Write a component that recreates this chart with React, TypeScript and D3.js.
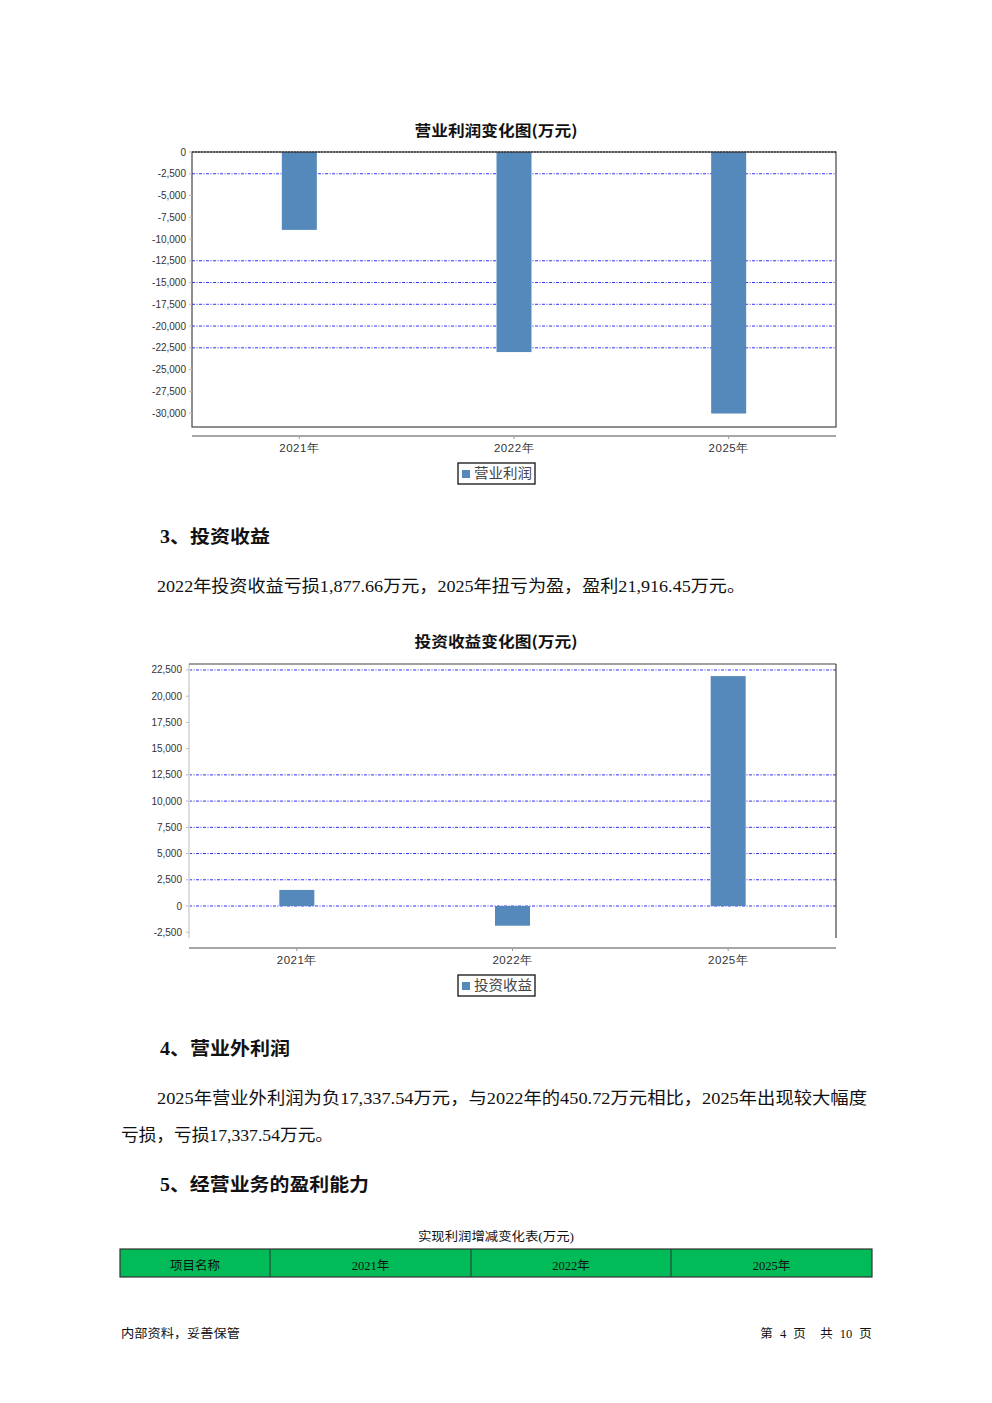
import React from "react";
import * as d3 from "d3";

const years = ["2021年", "2022年", "2025年"];
const operatingProfit = [-8950, -22990, -30050];
const investmentIncome = [1530, -1877.66, 21916.45];
const ticks1 = [0, -2500, -5000, -7500, -10000, -12500, -15000, -17500, -20000, -22500, -25000, -27500, -30000];
const grid1 = [-2500, -12500, -15000, -17500, -20000, -22500];
const ticks2 = [22500, 20000, 17500, 15000, 12500, 10000, 7500, 5000, 2500, 0, -2500];
const grid2 = [22500, 12500, 10000, 7500, 5000, 2500, 0];
const tableHeaders = ["项目名称", "2021年", "2022年", "2025年"];

const BAR = "#5589bc";
const SERIF = "'Liberation Serif', 'Noto Sans CJK SC', serif";
const CJK = "'Noto Sans CJK SC', sans-serif";
const TICKF = "'Liberation Sans', 'DejaVu Sans', sans-serif";
const fmt = (v: number) => d3.format(",")(v).replace("−", "-");

type ChartProps = {
  title: string;
  titleY: number;
  values: number[];
  domain: [number, number];
  x0: number;
  x1: number;
  y0: number;
  y1: number;
  tickX: number;
  ticks: number[];
  grid: number[];
  axisY: number;
  labelY: number;
  legend: string;
  legendY: number;
  variant: number;
};

function BarChart(p: ChartProps) {
  const y = d3.scaleLinear().domain(p.domain).range([p.y0, p.y1]);
  const x = d3.scaleBand().domain(years).range([p.x0, p.x1]);
  const bw = 35;
  return (
    <g>
      <text x={496} y={p.titleY} textAnchor="middle" fontFamily={CJK} fontWeight="bold" fontSize={15} textLength={163} lengthAdjust="spacingAndGlyphs" fill="#111">
        {p.title}
      </text>
      <rect x={p.x0} y={p.y0} width={p.x1 - p.x0} height={p.y1 - p.y0} fill="#fff" />
      {p.grid.map((g) => (
        <line key={"g" + g} x1={p.x0} x2={p.x1} y1={y(g)} y2={y(g)} stroke="#3030ff" strokeWidth={1} strokeDasharray="3,1.5,1,1.5" />
      ))}
      {p.values.map((v, i) => {
        const cx = (x(years[i]) as number) + x.bandwidth() / 2;
        const top = Math.min(y(v), y(0));
        const h = Math.abs(y(v) - y(0));
        return <rect key={i} x={cx - bw / 2} y={top} width={bw} height={h} fill={BAR} />;
      })}
      {p.variant === 1 ? (
        <g>
          <rect x={p.x0} y={p.y0} width={p.x1 - p.x0} height={p.y1 - p.y0} fill="none" stroke="#444" strokeWidth={1.2} />
          <line x1={p.x0} x2={p.x1} y1={p.y0} y2={p.y0} stroke="#223" strokeWidth={1} strokeDasharray="2,1" />
        </g>
      ) : (
        <g>
          <line x1={p.x0} x2={p.x0} y1={p.y0} y2={p.y1} stroke="#ddd" strokeWidth={2} />
          <line x1={p.x0} x2={p.x1} y1={p.y0} y2={p.y0} stroke="#444" strokeWidth={1.2} />
          <line x1={p.x1} x2={p.x1} y1={p.y0} y2={p.y1} stroke="#444" strokeWidth={1.2} />
        </g>
      )}
      {p.ticks.map((t) => (
        <g key={"t" + t}>
          <line x1={p.x0 - 3} x2={p.x0} y1={y(t)} y2={y(t)} stroke="#bbb" />
          <text x={p.tickX} y={y(t)} dy="0.35em" textAnchor="end" fontFamily={TICKF} fontSize={10} fill="#333">
            {fmt(t)}
          </text>
        </g>
      ))}
      <line x1={p.x0} x2={p.x1} y1={p.axisY} y2={p.axisY} stroke="#888" strokeWidth={1.5} />
      {years.map((c) => {
        const cx = (x(c) as number) + x.bandwidth() / 2;
        return (
          <g key={c}>
            <line x1={cx} x2={cx} y1={p.axisY} y2={p.axisY + 3} stroke="#999" />
            <text x={cx} y={p.labelY} dy="0.35em" textAnchor="middle" fontFamily={TICKF} fontSize={11.5} fill="#333" letterSpacing={0.5}>
              {c}
            </text>
          </g>
        );
      })}
      <rect x={458} y={p.legendY} width={77} height={21} fill="#fff" stroke="#111" strokeWidth={1.3} />
      <rect x={462} y={p.legendY + 7} width={8} height={8} fill={BAR} />
      <text x={474} y={p.legendY + 10.5} dy="0.35em" fontFamily={CJK} fontSize={14} fill="#444" textLength={58} lengthAdjust="spacingAndGlyphs">
        {p.legend}
      </text>
    </g>
  );
}

function T(props: { x: number; y: number; len?: number; size: number; bold?: boolean; anchor?: string; children: string; family?: string }) {
  return (
    <text
      x={props.x}
      y={props.y}
      dy="0.35em"
      textAnchor={props.anchor || "start"}
      fontFamily={props.family || SERIF}
      fontSize={props.size}
      fontWeight={props.bold ? "bold" : "normal"}
      fill="#111"
      textLength={props.len}
      lengthAdjust={props.len ? "spacingAndGlyphs" : undefined}
    >
      {props.children}
    </text>
  );
}

const footerParts: [string, number][] = [
  ["第", 766.5],
  ["4", 783],
  ["页", 799.5],
  ["共", 826.5],
  ["10", 846],
  ["页", 865.5],
];

export default function App() {
  const colX = [120, 270, 471, 671, 872];
  return (
    <svg width={992} height={1403} style={{ position: "absolute", left: 0, top: 0, background: "#fff" }}>
      <rect x={0} y={0} width={992} height={1403} fill="#fff" />
      <BarChart
        title="营业利润变化图(万元)"
        titleY={135.5}
        values={operatingProfit}
        domain={[0, -31600]}
        x0={192}
        x1={836}
        y0={152}
        y1={427}
        tickX={186}
        ticks={ticks1}
        grid={grid1}
        axisY={436}
        labelY={448}
        legend="营业利润"
        legendY={463}
        variant={1}
      />
      <T x={160} y={537} len={110} size={18} bold>
        3、投资收益
      </T>
      <T x={157} y={586} len={588} size={16.5}>
        2022年投资收益亏损1,877.66万元，2025年扭亏为盈，盈利21,916.45万元。
      </T>
      <BarChart
        title="投资收益变化图(万元)"
        titleY={646.5}
        values={investmentIncome}
        domain={[23070, -3050]}
        x0={189}
        x1={836}
        y0={664}
        y1={938}
        tickX={182}
        ticks={ticks2}
        grid={grid2}
        axisY={948}
        labelY={960}
        legend="投资收益"
        legendY={975}
        variant={2}
      />
      <T x={160} y={1049} len={130} size={18} bold>
        4、营业外利润
      </T>
      <T x={157} y={1098} len={710} size={16.5}>
        2025年营业外利润为负17,337.54万元，与2022年的450.72万元相比，2025年出现较大幅度
      </T>
      <T x={121} y={1135} len={212} size={16.5}>
        亏损，亏损17,337.54万元。
      </T>
      <T x={160} y={1185} len={209} size={18} bold>
        5、经营业务的盈利能力
      </T>
      <T x={496} y={1237} len={156} size={12.5} anchor="middle">
        实现利润增减变化表(万元)
      </T>
      <rect x={120} y={1249} width={752} height={28} fill="#00bb58" stroke="#333" strokeWidth={1.2} />
      {colX.slice(1, 4).map((cx) => (
        <line key={cx} x1={cx} x2={cx} y1={1249} y2={1277} stroke="#333" strokeWidth={1} />
      ))}
      {tableHeaders.map((h, i) => (
        <text key={h} x={(colX[i] + colX[i + 1]) / 2} y={1265.5} dy="0.35em" textAnchor="middle" fontFamily={SERIF} fontSize={12.5} fill="#111">
          {h}
        </text>
      ))}
      <T x={121} y={1334} len={119} size={12.5}>
        内部资料，妥善保管
      </T>
      {footerParts.map(([s, cx], i) => (
        <T key={i} x={cx} y={1334} size={12.5} anchor="middle">
          {s}
        </T>
      ))}
    </svg>
  );
}
